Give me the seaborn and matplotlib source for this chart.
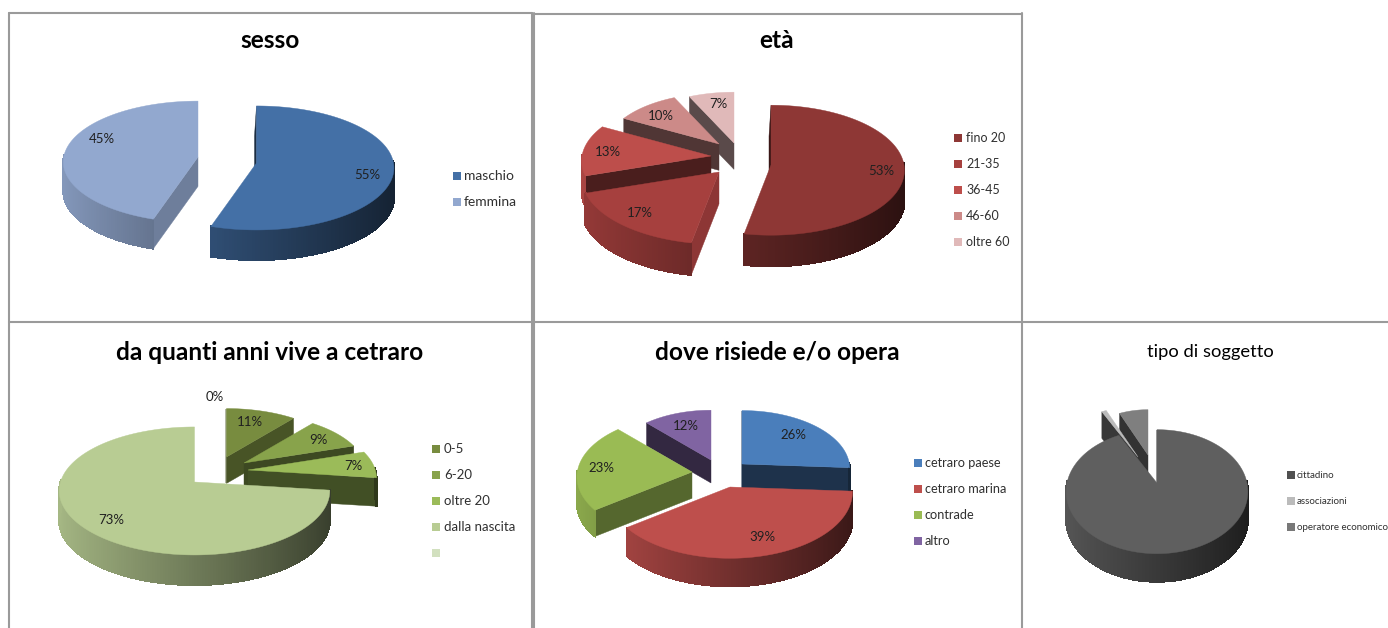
"""
Five exploded 3D pie charts from a survey on Cetraro
"""

import numpy as np
import pandas as pd
import matplotlib
matplotlib.use('Agg')
import matplotlib.pyplot as plt
from matplotlib.collections import PolyCollection
import seaborn as sns

sns.set_theme(style='white')
plt.rcParams['font.family'] = ['Lato', 'DejaVu Sans']

# values
sesso_labels = ['maschio', 'femmina']
sesso_values = [55, 45]
sesso_colors = ['#4470A6', '#92A8CF']

eta_labels = ['fino 20', '21-35', '36-45', '46-60', 'oltre 60']
eta_values = [53, 17, 13, 10, 7]
eta_colors = ['#8E3735', '#A6403E', '#BD4E4B', '#CC8A88', '#E0B9B9']

anni_labels = ['0-5', '6-20', 'oltre 20', 'dalla nascita', '']
anni_values = [11, 9, 7, 73, 0]
anni_colors = ['#788C3F', '#88A34B', '#9BBB59', '#B8CC93', '#D2E0BF']

dove_labels = ['cetraro paese', 'cetraro marina', 'contrade', 'altro']
dove_values = [26, 39, 23, 12]
dove_colors = ['#4A7EBB', '#BE4F4C', '#9ABB54', '#8064A2']

tipo_labels = ['cittadino', 'associazioni', 'operatore economico']
tipo_values = [92, 1, 7]
tipo_colors = ['#5F5F5F', '#BBBBBB', '#7F7F7F']


def project(theta, cx, cy, rx, ry, k):
    # slices run clockwise from 12 o'clock, far side a bit smaller
    p = 1 - k * np.cos(theta)
    return cx + rx * np.sin(theta) * p, cy - ry * np.cos(theta) * p


def draw_pie(ax, values, colors, cx, cy, rx, ry, depth, k, offsets, scales, faces, leans):
    edges = np.radians(np.r_[0, np.cumsum(values)] * 360 / sum(values))
    mids = (edges[:-1] + edges[1:]) / 2
    # far slices first so that the near ones cover them
    for i in np.argsort(-np.cos(mids)):
        if values[i] == 0:
            continue
        t1, t2 = edges[i], edges[i + 1]
        x0 = cx + offsets[i][0]
        y0 = cy + offsets[i][1]
        s = scales[i]
        d = depth * s
        col = np.array(matplotlib.colors.to_rgb(colors[i]))
        ts = np.linspace(t1, t2, max(int(np.degrees(t2 - t1)), 2) + 1)
        xs, ys = project(ts, x0, y0, rx * s, ry * s, k)

        # cut faces
        for t, visible, lean in [(t1, np.sin(t1) < 0.01, leans[i]), (t2, np.sin(t2) > 0.01, 0)]:
            if not visible:
                continue
            xe, ye = project(t, x0, y0, rx * s, ry * s, k)
            ax.fill([x0, xe, xe + lean, x0 + lean], [y0, ye, ye + d, y0 + d],
                    color=col * faces[i], lw=0.3, zorder=2)

        # outer rim, darker towards the right
        polys = []
        shades = []
        for j in range(len(ts) - 1):
            tm = (ts[j] + ts[j + 1]) / 2
            if np.cos(tm) > 0.03:
                continue
            polys.append([(xs[j], ys[j]), (xs[j + 1], ys[j + 1]),
                          (xs[j + 1], ys[j + 1] + d), (xs[j], ys[j] + d)])
            shades.append(col * (0.6 - 0.3 * np.sin(tm)))
        if polys:
            ax.add_collection(PolyCollection(polys, facecolors=shades, edgecolors=shades,
                                             linewidths=0.8, antialiaseds=False, zorder=2))

        ax.fill(np.r_[x0, xs], np.r_[y0, ys], color=col, lw=0.3, zorder=2)


def draw_legend(ax, labels, colors, x, y0, text_x, size=9.5, step=26):
    ys = [y0 + i * step for i in range(len(labels))]
    legend = pd.DataFrame({'x': [x] * len(labels), 'y': ys, 'label': range(len(labels))})
    sns.scatterplot(data=legend, x='x', y='y', hue='label', palette=colors, marker='s',
                    s=28, linewidth=0, legend=False, ax=ax, zorder=3)
    for lab, y in zip(labels, ys):
        ax.text(text_x, y, lab, fontsize=size, color='#303030', va='center')


def draw_percents(ax, values, positions):
    for v, (x, y) in zip(values, positions):
        ax.text(x, y, '%d%%' % v, fontsize=9.5, color='#202020', ha='center', va='center', zorder=4)


fig = plt.figure(figsize=(13.88, 6.28), dpi=100)
ax = fig.add_axes([0, 0, 1, 1])
ax.set_xlim(0, 1388)
ax.set_ylim(628, 0)
ax.axis('off')

# panel frames
frame = '#9A9A9A'
for xa, xb, ya, yb in [(9, 532, 13, 13), (534, 1022, 14, 14), (9, 1388, 322, 322),
                       (9, 9, 13, 628), (532, 532, 13, 628), (534, 534, 13, 628),
                       (1022, 1022, 13, 628)]:
    ax.plot([xa, xb], [ya, yb], color=frame, lw=1.5, zorder=1, scalex=False, scaley=False)

# sesso
draw_pie(ax, sesso_values, sesso_colors, 256.5, 163, 137, 62, 30, 0.08,
         [(0, 0), (-58.5, -6)], [1, 0.98], [0.4, 0.75], [-2, 0])
draw_percents(ax, sesso_values, [(367, 175), (102, 139)])
draw_legend(ax, sesso_labels, sesso_colors, 457, 176, 464, size=10)
ax.text(270, 40, 'sesso', fontsize=17.6, weight='bold', color='black', ha='center', va='center')

# età
draw_pie(ax, eta_values, eta_colors, 771, 165, 133, 65, 31, 0.08,
         [(0, 0), (-52, 7), (-60, -9), (-52, -21), (-37, -22)], [1, 1.03, 0.97, 0.85, 0.85],
         [0.4, 0.85, 0.39, 0.39, 0.4], [-2, 0, 0, 0, 0])
draw_percents(ax, eta_values, [(881, 171), (640, 213), (608, 152), (661, 116), (718, 104)])
draw_legend(ax, eta_labels, eta_colors, 958, 138, 966, size=9)
ax.text(777, 41, 'età', fontsize=17.6, weight='bold', color='black', ha='center', va='center')

# da quanti anni
draw_pie(ax, anni_values, anni_colors, 194.5, 482, 134, 64, 30, 0.14,
         [(32, -25), (49.5, -19), (53.5, -12), (0, 0), (0, 0)], [0.88, 0.9, 0.95, 1, 1],
         [0.6, 0.45, 0.42, 0.4, 0.4], [0, 0, 0, 0, 0])
draw_percents(ax, anni_values, [(250, 422), (318, 440), (353, 466), (111, 520), (215, 397)])
draw_legend(ax, anni_labels, anni_colors, 436, 449, 444)
ax.text(270, 352, 'da quanti anni vive a cetraro', fontsize=17.6, weight='bold', color='black',
        ha='center', va='center')

# dove risiede
draw_pie(ax, dove_values, dove_colors, 730, 487, 122, 66, 28, 0.08,
         [(12, -23), (0, 0), (-38, -15), (-19, -27)], [0.88, 1, 0.94, 0.82],
         [0.4, 0.4, 0.55, 0.4], [0, 0, 0, 0])
draw_percents(ax, dove_values, [(793, 435), (762, 537), (601, 468), (686, 426)])
draw_legend(ax, dove_labels, dove_colors, 918, 463, 925, size=9.2)
ax.text(777, 352, 'dove risiede e/o opera', fontsize=17.6, weight='bold', color='black',
        ha='center', va='center')

# tipo di soggetto, squeezed in the original
draw_pie(ax, tipo_values, tipo_colors, 1157, 483, 90, 62, 28, 0.14,
         [(0, 0), (-19, -26), (-9, -28)], [1, 0.95, 0.85], [0.4, 0.3, 0.4], [0, 0, 0])
draw_legend(ax, tipo_labels, ['#505050', '#BBBBBB', '#787878'], 1291, 475, 1297, size=7)
ax.text(1210, 352, 'tipo di soggetto', fontsize=13.2, color='black', ha='center', va='center')

ax.set_xlabel('')
ax.set_ylabel('')
fig.savefig('out.png', dpi=100, facecolor='white')
